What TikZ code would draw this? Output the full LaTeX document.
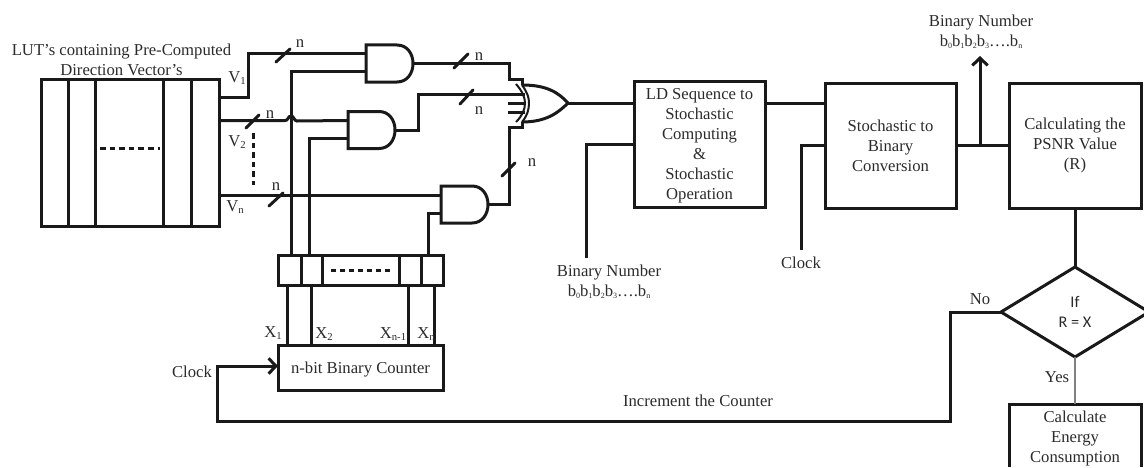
\documentclass[tikz,border=0pt]{standalone}
\usepackage{fontspec}
\setmainfont{Liberation Serif}
\newfontfamily\diamfont{Carlito}
\usetikzlibrary{arrows.meta,shapes.geometric,calc}
\newcommand{\sbs}[1]{\raisebox{-.35ex}{\fontsize{8pt}{8pt}\selectfont #1}}
\newcommand{\sbb}[1]{\raisebox{-.25ex}{\fontsize{6pt}{6pt}\selectfont #1}}
\newcommand{\tallstrut}{\rule{0pt}{11.5pt}}
\definecolor{ink}{gray}{0.1}
\definecolor{txt}{gray}{0.17}
\tikzset{
  wh/.style 2 args={minimum width=#1*0.75pt,minimum height=#2*0.75pt},
  wire/.style={draw=ink,line width=2.25pt,line join=miter},
  boxn/.style={draw=ink,line width=2.25pt,rectangle,inner sep=0pt,outer sep=0pt,text=txt,align=center},
  lbl/.style={inner sep=0pt,outer sep=0pt,text=txt,align=center},
  chev/.style={-{Straight Barb[length=5.5pt,width=11.5pt,line width=2.25pt]}},
  busn/.style={draw=ink,line width=2.2pt,line cap=round},
  dots/.style={draw=ink,line width=2.25pt,dash pattern=on 4.2pt off 3pt},
  andgate/.pic={
    \draw[draw=ink,line width=2.25pt,line join=miter] (0,-18.5) -- (31,-18.5) .. controls (41,-18.5) and (47,-10) .. (47,0) .. controls (47,10) and (41,18.5) .. (31,18.5) -- (0,18.5) -- cycle;
    \coordinate (-a) at (0,-9.5);
    \coordinate (-b) at (0,8.5);
    \coordinate (-o) at (47,0);
  }
}
\begin{document}
\begin{tikzpicture}[x=0.75pt,y=-0.75pt,font=\fontsize{12.5pt}{15pt}\selectfont]
\useasboundingbox (0,0) rectangle (1144,467);
% LUT
\node[boxn,wh={178}{147}] (lut) at (130,152.5) {};
\foreach \xx in {68,95,163,191} \draw[wire] (\xx,0 |- lut.north) -- (\xx,0 |- lut.south);
\coordinate (lutd1) at (100,148); \coordinate (lutd2) at (160,148);
\draw[dots] (lutd1) -- (lutd2);
\node[lbl] (luttitle) at (121.5,60) {LUT’s containing Pre-Computed\\Direction Vector’s};
% gates
\pic (g1) at (366,63.5) {andgate};
\pic (g2) at (348,130) {andgate};
\pic (g3) at (441,204.5) {andgate};
% register
\node[boxn,wh={165}{30}] (reg) at (360.5,270) {};
\foreach \xx in {301,322,399,421} \draw[wire] (\xx,0 |- reg.north) -- (\xx,0 |- reg.south);
\coordinate (regd1) at (331,270); \coordinate (regd2) at (391,270);
\draw[dots,dash pattern=on 3.6pt off 3.2pt] (regd1) -- (regd2);
% counter
\node[boxn,wh={165}{45}] (cnt) at (360.5,367.5) {\tallstrut n-bit Binary Counter};
\foreach \xx in {287,311,408,434} \draw[wire] (\xx,0 |- reg.south) -- (\xx,0 |- cnt.north);
\node[lbl] (x1) at (273,333) {X\sbs{1}};
\node[lbl] (x2) at (324,334) {X\sbs{2}};
\node[lbl] (x3) at (393,334) {X\sbs{n-1}};
\node[lbl] (x4) at (426,334) {X\sbs{n}};
% inputs
\draw[wire] (lut.east |- 0,97) -- (248,97) -- (248,0 |- g1-a) -- (g1-a);
\draw[wire] (lut.east |- g2-a) -- (285,0 |- g2-a) .. controls (288,121) and (288,116) .. (291,116) .. controls (294,116) and (294,121) .. (297,121) -- (g2-a);
\draw[wire] (lut.east |- g3-a) -- (g3-a);
\draw[wire] (g1-b) -- (291,0 |- g1-b) -- (291,0 |- reg.north);
\draw[wire] (g2-b) -- (309,0 |- g2-b) -- (309,0 |- reg.north);
\draw[wire] (g3-b) -- (428,0 |- g3-b) -- (428,0 |- reg.north);
\node[lbl] (v1) at (237,78) {V\sbs{1}};
\node[lbl] (v2) at (237,142) {V\sbs{2}};
\node[lbl] (vn) at (235,207) {V\sbs{n}};
\coordinate (vd1) at (253,133); \coordinate (vd2) at (253,185);
\draw[dots] (vd1) -- (vd2);
% XOR
\coordinate (xt) at (522,85); \coordinate (xb) at (522,122); \coordinate (xo) at (568,103);
\draw[draw=ink,line width=2.25pt] (xt) .. controls (546,85) and (558,92) .. (xo) .. controls (558,113) and (546,122) .. (xb);
\draw[draw=ink,line width=1.5pt] (xt) .. controls (527,92) and (529,97) .. (529,103) .. controls (529,110) and (527,116) .. (xb);
\coordinate (xa1) at (516,84); \coordinate (xa2) at (516,122);
\draw[draw=ink,line width=1.5pt] (xa1) .. controls (522,91) and (525,97) .. (525,103) .. controls (525,110) and (522,116) .. (xa2);
% outputs to XOR
\draw[wire] (g1-o) -- (509,0 |- g1-o) -- (509,79) -- (522,79) -- (xt);
\draw[wire] (g2-o) -- (418,0 |- g2-o) -- (418,94) -- (525,94);
\draw[wire] (g3-o) -- (509,0 |- g3-o) -- (509,127) -- (522,127) -- (xb);
\draw[wire] (508,103) -- (526,103);
\draw[wire] (508,112) -- (525,112);
% bus slashes
\draw[busn] (276,62) -- (290,49);
\draw[busn] (246,128) -- (259,115);
\draw[busn] (269,206) -- (283,193);
\draw[busn] (454,68) -- (468,54);
\draw[busn] (460,104) -- (473,90);
\draw[busn] (502,176) -- (515,163);
\node[lbl] (n1) at (300,44) {n};
\node[lbl] (n2) at (270,115) {n};
\node[lbl] (n3) at (276,187) {n};
\node[lbl] (n4) at (479,57) {n};
\node[lbl] (n5) at (479,111) {n};
\node[lbl] (n6) at (532,163) {n};
% main blocks
\node[boxn,wh={131}{126}] (ld) at (699.5,144) {\tallstrut LD Sequence to\\Stochastic\\Computing\\\&\\Stochastic\\Operation};
\node[boxn,wh={131}{125}] (sb) at (890.5,145.5) {Stochastic to\\Binary\\Conversion};
\node[boxn,wh={132}{125}] (psnr) at (1075,145.5) {Calculating the\\PSNR Value\\(R)};
\draw[wire] (xo) -- (xo -| ld.west);
\draw[wire] (ld.east |- xo) -- (sb.west |- xo);
\draw[wire] (sb.east) -- (psnr.west);
% binary inputs
\coordinate (bin1) at (586,258);
\draw[wire] (bin1) -- (586,144) -- (ld.west |- 0,144);
\node[lbl] (bin1t) at (609,282) {Binary Number\\b\sbb{0}b\sbb{1}b\sbb{2}b\sbb{3}….b\sbb{n}};
\coordinate (clk2) at (801,250);
\draw[wire] (clk2) -- (801,145) -- (sb.west |- 0,145);
\node[lbl] (clk2t) at (801,263) {Clock};
% binary output
\coordinate (binout) at (980,145);
\coordinate (binoutend) at (980,56);
\draw[wire,chev] (binout) -- (binoutend);
\node[lbl] (bin2t) at (981,31.5) {Binary Number\\b\sbb{0}b\sbb{1}b\sbb{2}b\sbb{3}….b\sbb{n}};
% decision
\node[draw=ink,line width=2.25pt,diamond,inner sep=0pt,outer sep=0pt,wh={148}{90},aspect=1.64,text=txt,align=center] (dec) at (1075,312) {};
\node[lbl,font=\diamfont\fontsize{12.2pt}{15pt}\selectfont] (dect) at (dec.center) {If\\R = X};
\draw[wire] (psnr.south) -- (dec.north);
% calc box, cut off by the picture edge
\node[lbl,wh={132}{68}] (calc) at (1075,438) {Calculate\\Energy\\Consumption};
\coordinate (calcbl) at (1009,467); \coordinate (calcbr) at (1141,467);
\draw[draw=ink,line width=2.25pt] (calcbl) -- (calcbl |- calc.north) -- (calcbr |- calc.north) -- (calcbr);
\draw[draw=gray,line width=1.1pt] (dec.south) -- (calc.north);
\node[lbl] (no) at (980,299) {No};
\node[lbl] (yes) at (1057,377) {Yes};
% feedback
\coordinate (fb1) at (950,312); \coordinate (fb2) at (950,421); \coordinate (fb3) at (217,421); \coordinate (fb4) at (217,366);
\draw[wire,chev] (dec.west) -- (fb1) -- (fb2) -- (fb3) -- (fb4) -- (cnt.west |- fb4);
\node[lbl] (inc) at (698,400.5) {Increment the Counter};
\node[lbl] (clk1) at (192,372) {Clock};
\end{tikzpicture}
\end{document}
